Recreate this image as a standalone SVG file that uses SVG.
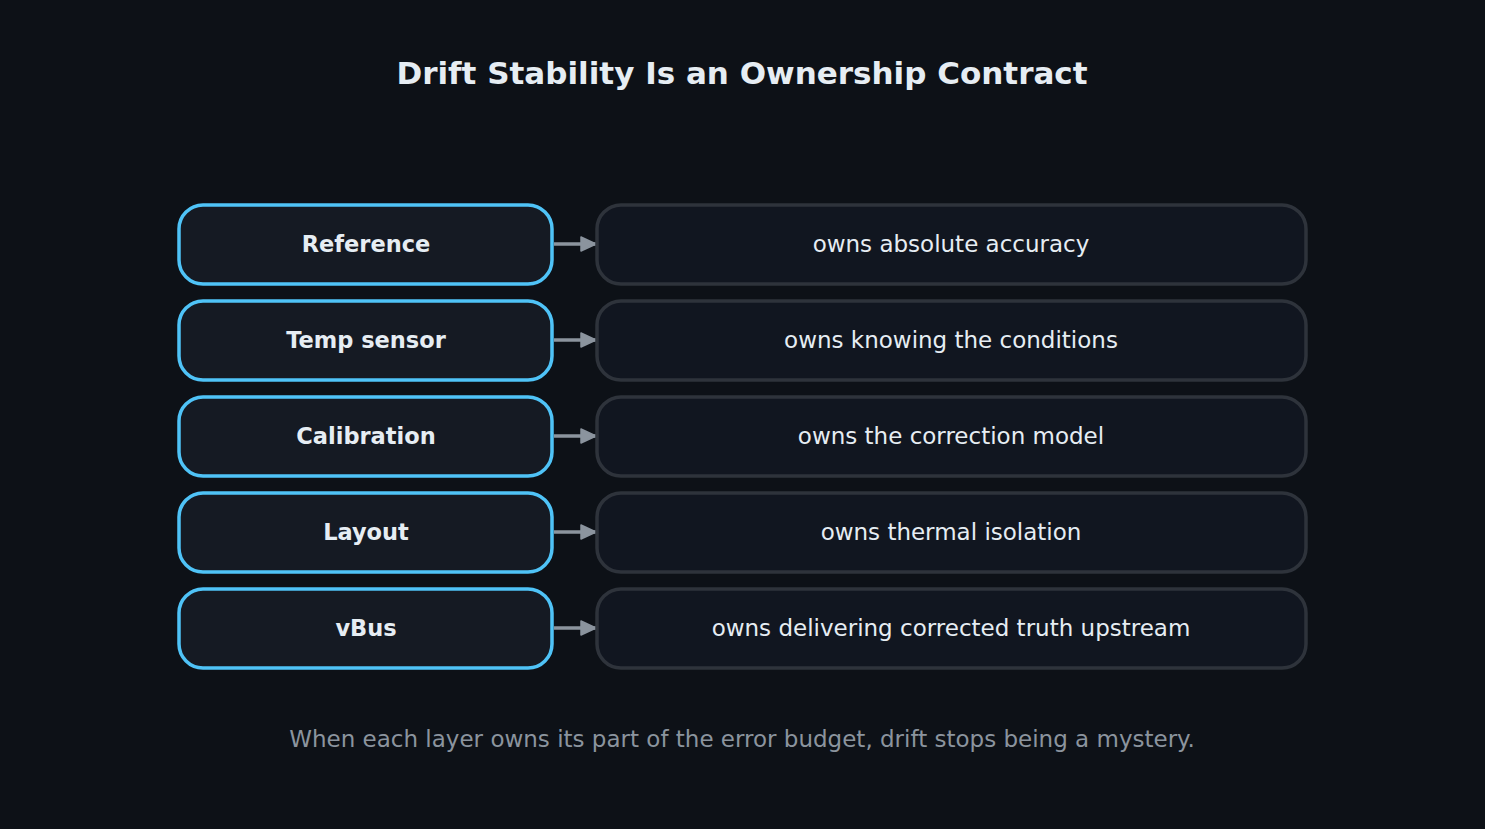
<svg xmlns="http://www.w3.org/2000/svg" width="1485" height="829" viewBox="0 0 1485 829">
<style>
.l{fill:#151a23;stroke:#4fc3f7;stroke-width:3.5}
.r{fill:#111620;stroke:#2e333b;stroke-width:3.5}
.lt{font-family:"DejaVu Sans",sans-serif;font-weight:bold;font-size:22.5px;fill:#e6edf3;text-anchor:middle}
.rt{font-family:"DejaVu Sans",sans-serif;font-size:23px;fill:#e6edf3;text-anchor:middle}
.c{stroke:#8b949e;stroke-width:3.5;fill:none;marker-end:url(#a)}
</style>
<defs><marker id="a" markerWidth="18" markerHeight="16" refX="16" refY="8" orient="auto" markerUnits="userSpaceOnUse"><path d="M1,1 L16,8 L1,15 Z" fill="#8b949e" stroke="#8b949e" stroke-width="1.5" stroke-linejoin="round"/></marker></defs>
<rect width="1485" height="829" fill="#0d1117"/>
<text x="742" y="84" font-family="'DejaVu Sans',sans-serif" font-weight="bold" font-size="31" fill="#e6edf3" text-anchor="middle">Drift Stability Is an Ownership Contract</text>
<g id="connectors">
<path class="c" d="M554,244 H596"/><path class="c" d="M554,340 H596"/><path class="c" d="M554,436 H596"/><path class="c" d="M554,532 H596"/><path class="c" d="M554,628 H596"/>
</g>
<g id="n1"><rect class="l" x="179" y="205" width="373" height="79" rx="24"/><text class="lt" x="366" y="252">Reference</text></g>
<g id="n2"><rect class="l" x="179" y="301" width="373" height="79" rx="24"/><text class="lt" x="366" y="348">Temp sensor</text></g>
<g id="n3"><rect class="l" x="179" y="397" width="373" height="79" rx="24"/><text class="lt" x="366" y="444">Calibration</text></g>
<g id="n4"><rect class="l" x="179" y="493" width="373" height="79" rx="24"/><text class="lt" x="366" y="540">Layout</text></g>
<g id="n5"><rect class="l" x="179" y="589" width="373" height="79" rx="24"/><text class="lt" x="366" y="636">vBus</text></g>
<g id="m1"><rect class="r" x="597" y="205" width="709" height="79" rx="24"/><text class="rt" x="951" y="252">owns absolute accuracy</text></g>
<g id="m2"><rect class="r" x="597" y="301" width="709" height="79" rx="24"/><text class="rt" x="951" y="348">owns knowing the conditions</text></g>
<g id="m3"><rect class="r" x="597" y="397" width="709" height="79" rx="24"/><text class="rt" x="951" y="444">owns the correction model</text></g>
<g id="m4"><rect class="r" x="597" y="493" width="709" height="79" rx="24"/><text class="rt" x="951" y="540">owns thermal isolation</text></g>
<g id="m5"><rect class="r" x="597" y="589" width="709" height="79" rx="24"/><text class="rt" x="951" y="636">owns delivering corrected truth upstream</text></g>
<text x="742" y="747" font-family="'DejaVu Sans',sans-serif" font-size="23" fill="#8b949e" text-anchor="middle">When each layer owns its part of the error budget, drift stops being a mystery.</text>
</svg>
